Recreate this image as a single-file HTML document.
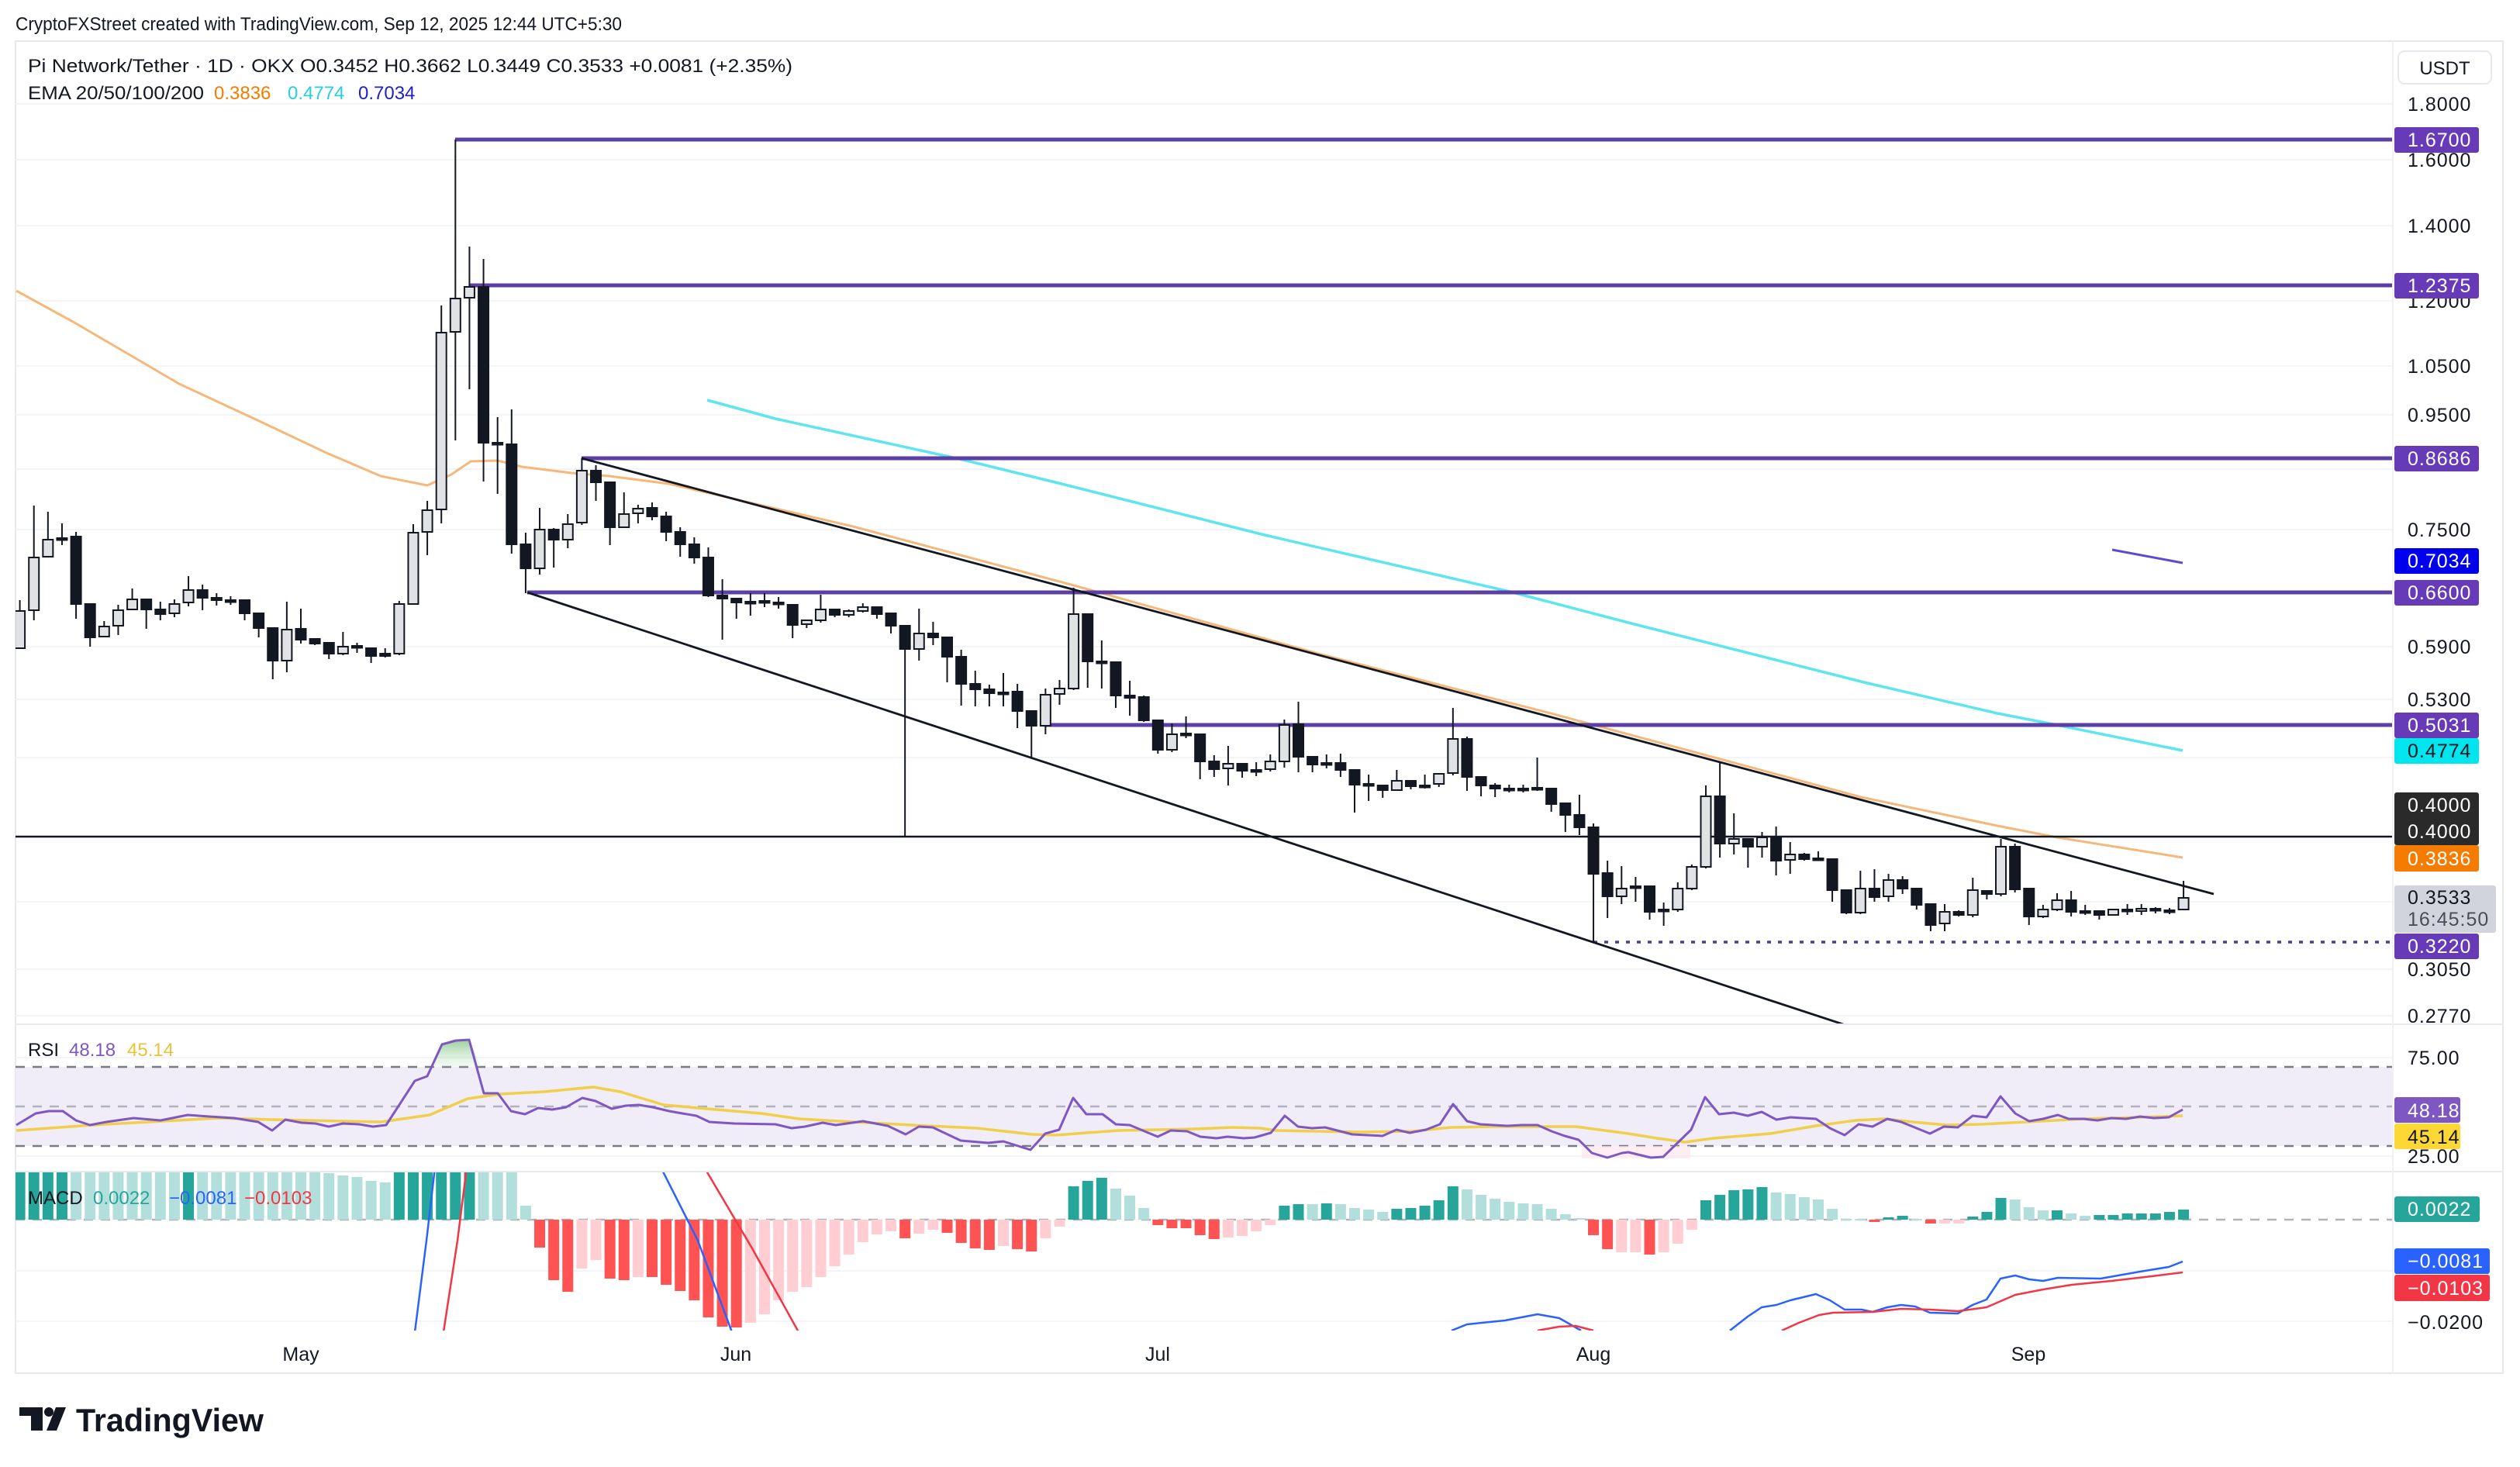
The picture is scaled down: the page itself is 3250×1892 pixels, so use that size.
<!DOCTYPE html>
<html><head><meta charset="utf-8"><style>
html,body{margin:0;padding:0;background:#fff;}
svg{display:block;}
text{font-family:"Liberation Sans",sans-serif;}
</style></head><body>
<svg id="s" xmlns="http://www.w3.org/2000/svg" width="3250" height="1892" viewBox="0 0 3250 1892">
<defs>
<clipPath id="pc"><rect x="20" y="54" width="3065" height="1266"/></clipPath>
<clipPath id="mc"><rect x="20" y="1512" width="3065" height="204"/></clipPath>
<linearGradient id="gg" x1="0" y1="0" x2="0" y2="1"><stop offset="0" stop-color="#7cc47f" stop-opacity="0.8"/><stop offset="1" stop-color="#c8e6c9" stop-opacity="0.2"/></linearGradient>
</defs>
<rect width="3250" height="1892" fill="#fff"/>
<!-- header -->
<text x="20" y="39" font-size="24" fill="#131722" textLength="782" lengthAdjust="spacingAndGlyphs">CryptoFXStreet created with TradingView.com, Sep 12, 2025 12:44 UTC+5:30</text>
<!-- frame -->
<g stroke="#e6e8ee" stroke-width="2" fill="none">
<rect x="20" y="53" width="3208" height="1718"/>
<line x1="20" y1="1321" x2="3228" y2="1321"/>
<line x1="20" y1="1511" x2="3228" y2="1511"/>
<line x1="3086" y1="53" x2="3086" y2="1771" stroke="#f0f1f4"/>
</g>
<g id="grid" stroke="#f3f4f7" stroke-width="2"></g>
<!-- RSI band -->
<rect x="20" y="1376" width="3065" height="102" fill="#ede9f7" opacity="0.85"/>
<g stroke-width="2.5" stroke-dasharray="12,10" fill="none">
<line x1="20" y1="1376" x2="3085" y2="1376" stroke="#787b86"/>
<line x1="20" y1="1427" x2="3085" y2="1427" stroke="#b0b3bd"/>
<line x1="20" y1="1478" x2="3085" y2="1478" stroke="#787b86"/>
<line x1="20" y1="1573" x2="3085" y2="1573" stroke="#b0b3bd"/>
</g>
<g id="price" clip-path="url(#pc)"></g>
<g id="macd" clip-path="url(#mc)"></g>
<g id="rsi"></g>

<!-- legends -->
<text x="36" y="93" font-size="24" fill="#131722" textLength="986" lengthAdjust="spacingAndGlyphs">Pi Network/Tether · 1D · OKX  O0.3452  H0.3662  L0.3449  C0.3533  +0.0081 (+2.35%)</text>
<text x="36" y="128" font-size="24" fill="#131722" textLength="227" lengthAdjust="spacingAndGlyphs">EMA 20/50/100/200</text>
<text x="276" y="128" font-size="24" fill="#f57c00">0.3836</text>
<text x="371" y="128" font-size="24" fill="#26d0e0">0.4774</text>
<text x="462" y="128" font-size="24" fill="#1f1fc8">0.7034</text>

<text x="36" y="1362" font-size="24" fill="#131722">RSI</text>
<text x="89" y="1362" font-size="24" fill="#7e57c2">48.18</text>
<text x="164" y="1362" font-size="24" fill="#e8c43a">45.14</text>

<text x="36" y="1553" font-size="24" fill="#131722">MACD</text>
<text x="120" y="1553" font-size="24" fill="#26a69a">0.0022</text>
<text x="218" y="1553" font-size="24" fill="#2962ff">−0.0081</text>
<text x="315" y="1553" font-size="24" fill="#f23645">−0.0103</text>

<!-- time axis -->
<g font-size="25" fill="#131722" text-anchor="middle">
<text x="388" y="1755">May</text><text x="949" y="1755">Jun</text><text x="1493" y="1755">Jul</text><text x="2055" y="1755">Aug</text><text x="2616" y="1755">Sep</text>
</g>

<!-- right axis -->
<rect x="3093" y="66" width="120" height="42" rx="8" fill="#fff" stroke="#e6e8ee" stroke-width="2"/>
<text x="3153" y="96" font-size="24" fill="#131722" text-anchor="middle">USDT</text>
<g font-size="25" fill="#131722" letter-spacing="1">
<text x="3105" y="143">1.8000</text>
<text x="3105" y="215">1.6000</text>
<text x="3105" y="300">1.4000</text>
<text x="3105" y="397">1.2000</text>
<text x="3105" y="481">1.0500</text>
<text x="3105" y="544">0.9500</text>
<text x="3105" y="692">0.7500</text>
<text x="3105" y="843">0.5900</text>
<text x="3105" y="911">0.5300</text>
<text x="3105" y="1259">0.3050</text>
<text x="3105" y="1319">0.2770</text>
<text x="3105" y="1373">75.00</text>
<text x="3105" y="1500">25.00</text>
<text x="3105" y="1714">−0.0200</text>
</g>
<g font-size="25" letter-spacing="1">
<rect x="3088" y="164" width="109" height="33" rx="3" fill="#673ab7"/><text x="3105" y="189" fill="#fff">1.6700</text>
<rect x="3088" y="352" width="109" height="33" rx="3" fill="#673ab7"/><text x="3105" y="377" fill="#fff">1.2375</text>
<rect x="3088" y="575" width="109" height="33" rx="3" fill="#673ab7"/><text x="3105" y="600" fill="#fff">0.8686</text>
<rect x="3088" y="707" width="109" height="33" rx="3" fill="#0000ee"/><text x="3105" y="732" fill="#fff">0.7034</text>
<rect x="3088" y="748" width="109" height="33" rx="3" fill="#673ab7"/><text x="3105" y="773" fill="#fff">0.6600</text>
<rect x="3088" y="919" width="109" height="33" rx="3" fill="#673ab7"/><text x="3105" y="944" fill="#fff">0.5031</text>
<rect x="3088" y="952" width="109" height="33" rx="3" fill="#00e5ee"/><text x="3105" y="977" fill="#131722">0.4774</text>
<rect x="3088" y="1022" width="109" height="68" rx="3" fill="#2a2a2a"/><text x="3105" y="1047" fill="#fff">0.4000</text><text x="3105" y="1081" fill="#fff">0.4000</text>
<rect x="3088" y="1090" width="109" height="34" rx="3" fill="#f57c00"/><text x="3105" y="1116" fill="#fff">0.3836</text>
<rect x="3088" y="1142" width="131" height="61" rx="3" fill="#d1d4dc"/><text x="3105" y="1166" fill="#131722">0.3533</text><text x="3105" y="1194" fill="#4a4d57">16:45:50</text>
<rect x="3088" y="1204" width="109" height="33" rx="3" fill="#673ab7"/><text x="3105" y="1229" fill="#fff">0.3220</text>
<rect x="3088" y="1415" width="85" height="33" rx="3" fill="#7e57c2"/><text x="3105" y="1441" fill="#fff">48.18</text>
<rect x="3088" y="1449" width="85" height="33" rx="3" fill="#fdd835"/><text x="3105" y="1475" fill="#131722">45.14</text>
<rect x="3088" y="1543" width="110" height="33" rx="3" fill="#26a69a"/><text x="3105" y="1568" fill="#fff">0.0022</text>
<rect x="3088" y="1610" width="123" height="33" rx="3" fill="#2962ff"/><text x="3105" y="1635" fill="#fff">−0.0081</text>
<rect x="3088" y="1644" width="123" height="34" rx="3" fill="#f23645"/><text x="3105" y="1670" fill="#fff">−0.0103</text>
</g>

<!-- logo -->
<g fill="#131722">
<rect x="25" y="1815" width="30" height="11"/><rect x="40" y="1815" width="15" height="30"/>
<circle cx="63" cy="1821" r="6"/><polygon points="72,1815 85,1815 73,1845 60,1845"/>
</g>
<text x="98" y="1846" font-size="42" font-weight="bold" fill="#131722" textLength="242" lengthAdjust="spacingAndGlyphs">TradingView</text>
</svg>
<script>
(function(){
var NS="http://www.w3.org/2000/svg";
function el(p,t,a){var e=document.createElementNS(NS,t);for(var k in a)e.setAttribute(k,a[k]);p.appendChild(e);return e;}
function X(d){return 388+18.12*d;}
var grid=document.getElementById('grid');
[134,206,291,388,472,535,605,683,834,902,977,1163,1250,1310,1364,1491,1639,1704].forEach(function(y){el(grid,'line',{x1:20,y1:y,x2:3085,y2:y});});
var P=document.getElementById('price');
function pl(g,pts,st,w,extra){var a={points:pts.map(function(p){return p.join(',')}).join(' '),fill:'none',stroke:st,'stroke-width':w,'stroke-linejoin':'round'};for(var k in extra)a[k]=extra[k];return el(g,'polyline',a);}
// EMAs
pl(P,[[21,375],[96,416],[161,454],[231,495],[330,541],[421,584],[491,614],[551,626],[582,612],[607,595],[642,594],[673,602],[737,610],[786,614],[863,624],[1100,679],[1385,755],[1700,843],[2000,920],[2200,974],[2400,1028],[2576,1065],[2653,1080],[2815,1106]],'#f6b87a',3);
pl(P,[[912,516],[1000,540],[1238,592],[1365,623],[1631,690],[1947,763],[2100,803],[2404,880],[2576,920],[2653,935],[2815,968]],'#5ee6ee',3.5);
pl(P,[[2724,709],[2815,726]],'#5d4ad0',3);
// horizontal levels
var lv=[[587,180],[605,368],[750,591],[680,764],[1347,935]];
lv.forEach(function(l){el(P,'line',{x1:l[0],y1:l[1],x2:3085,y2:l[1],stroke:'#5b3fa6','stroke-width':5});});
el(P,'line',{x1:20,y1:1079,x2:3085,y2:1079,stroke:'#131722','stroke-width':2.5});
el(P,'line',{x1:2055,y1:1215,x2:3085,y2:1215,stroke:'#4a3f8a','stroke-width':3.5,'stroke-dasharray':'5,9'});
el(P,'line',{x1:X(43),y1:845,x2:X(43),y2:1079,stroke:'#131722','stroke-width':2});
// channel
el(P,'line',{x1:750,y1:591,x2:2855,y2:1153,stroke:'#131722','stroke-width':2.8});
el(P,'line',{x1:680,y1:764,x2:2380,y2:1322,stroke:'#131722','stroke-width':2.8});
// candles [d,o,c,h,l]
var C=[[-20,836,788,774,837],[-19,787,719,652,800],[-18,718,696,660,718],[-17,694,694,675,703],[-16,692,779,686,798],[-15,779,822,779,834],[-14,821,808,801,822],[-13,807,787,780,819],[-12,786,773,759,787],[-11,773,786,773,811],[-10,786,792,776,800],[-9,791,779,773,796],[-8,777,761,743,782],[-7,761,771,754,787],[-6,771,774,765,781],[-5,774,774,769,780],[-4,774,791,774,800],[-3,791,810,791,822],[-2,810,852,810,876],[-1,852,812,776,867],[0,811,825,785,830],[1,824,830,824,832],[2,829,843,829,850],[3,843,834,815,845],[4,833,833,829,842],[5,836,846,836,855],[6,843,846,836,848],[7,843,779,775,845],[8,779,687,676,780],[9,686,658,646,716],[10,657,429,394,675],[11,428,385,180,568],[12,384,370,318,502],[13,370,571,334,621],[14,571,573,538,637],[15,573,702,528,714],[16,702,733,687,765],[17,733,683,655,741],[18,683,696,681,732],[19,696,676,663,707],[20,674,607,591,677],[21,607,622,600,646],[22,622,680,622,703],[23,680,663,635,680],[24,662,656,651,675],[25,655,666,648,671],[26,666,686,660,698],[27,686,702,680,718],[28,702,719,693,727],[29,719,768,706,770],[30,768,772,747,825],[31,772,777,772,798],[32,776,776,765,794],[33,775,775,765,783],
[34,777,777,770,785],[35,780,806,780,823],[36,805,800,800,810],[37,800,786,767,803],[38,786,793,786,796],[39,793,788,786,796],[40,788,783,778,790],[41,783,792,783,798],[42,791,807,791,817],[43,807,837,807,845],[44,837,817,785,852],[45,817,822,802,832],[46,822,847,822,880],[47,847,882,838,910],[48,882,889,865,911],[49,889,894,883,911],[50,893,893,868,911],[51,892,917,882,939],[52,917,936,917,977],[53,936,896,888,947],[54,895,888,877,909],[55,888,792,758,890],[56,792,853,792,887],[57,853,853,826,888],[58,854,897,854,913],[59,897,900,878,923],[60,899,929,897,931],[61,929,967,929,972],[62,967,947,933,970],[63,946,946,924,952],[64,947,982,947,1005],[65,982,992,974,1002],[66,991,985,962,1013],[67,985,994,985,1003],[68,993,993,983,1001],[69,992,982,973,995],[70,982,935,928,990],[71,934,976,905,996],[72,976,986,976,996],[73,984,986,973,991],[74,984,993,972,1002],[75,993,1012,993,1048],[76,1011,1011,999,1033],[77,1013,1019,1013,1029],[78,1019,1007,993,1020],[79,1007,1014,1007,1018],[80,1013,1013,999,1017],[81,1011,998,998,1015],[82,997,953,913,1000],[83,953,1002,950,1020],
[84,1002,1013,1002,1027],[85,1013,1017,1010,1028],[86,1017,1017,1012,1022],[87,1017,1017,1012,1022],[88,1016,1016,977,1020],[89,1017,1037,1017,1047],[90,1036,1051,1036,1073],[91,1051,1067,1025,1077],[92,1067,1127,1062,1216],[93,1126,1156,1110,1184],[94,1156,1146,1117,1166],[95,1143,1143,1131,1163],[96,1143,1176,1143,1186],[97,1173,1173,1164,1194],[98,1173,1146,1138,1176],[99,1146,1118,1115,1148],[100,1118,1027,1013,1120],[101,1027,1088,984,1106],[102,1088,1082,1049,1102],[103,1082,1092,1082,1119],[104,1092,1080,1073,1106],[105,1080,1110,1066,1129],[106,1109,1102,1086,1127],[107,1102,1108,1100,1110],[108,1107,1107,1098,1110],[109,1108,1148,1108,1163],[110,1148,1177,1148,1179],[111,1177,1146,1123,1179],[112,1146,1157,1121,1163],[113,1156,1135,1127,1163],[114,1135,1146,1130,1153],[115,1146,1167,1146,1173],[116,1166,1193,1166,1201],[117,1191,1176,1166,1201],[118,1176,1180,1174,1182],[119,1180,1148,1132,1183],[120,1149,1153,1149,1160],[121,1153,1092,1082,1156],[122,1092,1147,1088,1151],[123,1146,1182,1146,1193],[124,1182,1173,1167,1184],[125,1173,1161,1152,1175],[126,1161,1176,1149,1182],[127,1175,1175,1167,1180],[128,1175,1180,1175,1186],[129,1180,1173,1172,1181],[130,1173,1175,1166,1180],[131,1175,1172,1166,1180],[132,1172,1174,1170,1178],[133,1174,1174,1171,1179],[134,1173,1158,1136,1174]];
C.forEach(function(c){var x=X(c[0]),o=c[1],cl=c[2],h=Math.min(c[3],o,cl),l=Math.max(c[4],o,cl);
 el(P,'line',{x1:x,y1:h,x2:x,y2:l,stroke:'#131722','stroke-width':2});
 var top=Math.min(o,cl),ht=Math.max(Math.abs(o-cl),2.5);var up=cl<o;
 el(P,'rect',{x:x-6.5,y:top,width:13,height:ht,fill:up?'#e1e2e6':'#131722',stroke:'#131722','stroke-width':2});});
// RSI
var R=document.getElementById('rsi');
el(R,'polygon',{points:'557,1376 570,1347 588,1342 605,1341 620,1376',fill:'url(#gg)'});
el(R,'rect',{x:2040,y:1478,width:140,height:16,fill:'#fde7ec',opacity:0.7});
pl(R,[[21,1458],[119,1451],[281,1442],[351,1444],[491,1447],[554,1438],[603,1417],[645,1411],[702,1408],[765,1402],[800,1408],[856,1425],[912,1430],[982,1436],[1031,1443],[1100,1447],[1120,1448],[1176,1451],[1260,1455],[1331,1463],[1362,1464],[1401,1461],[1443,1458],[1541,1456],[1590,1454],[1625,1455],[1646,1458],[1752,1460],[1822,1459],[1871,1454],[1927,1453],[2032,1453],[2100,1462],[2137,1468],[2173,1473],[2210,1468],[2283,1462],[2342,1452],[2393,1445],[2430,1443],[2467,1447],[2511,1451],[2555,1450],[2613,1447],[2687,1443],[2760,1441],[2815,1439]],'#f2cf4a',3.5);
pl(R,[[21,1451],[46,1436],[63,1433],[81,1433],[98,1445],[116,1451],[137,1447],[172,1442],[207,1445],[242,1438],[270,1440],[302,1442],[333,1447],[351,1458],[368,1444],[389,1448],[407,1449],[424,1453],[442,1449],[463,1450],[481,1453],[498,1451],[535,1394],[551,1388],[570,1347],[588,1342],[605,1341],[624,1410],[642,1410],[659,1433],[677,1437],[694,1429],[712,1431],[730,1428],[751,1416],[768,1420],[789,1430],[807,1426],[824,1425],[842,1428],[863,1433],[880,1436],[898,1439],[915,1447],[947,1449],[1000,1450],[1021,1455],[1038,1453],[1061,1448],[1078,1451],[1113,1446],[1145,1452],[1168,1463],[1185,1453],[1203,1454],[1239,1471],[1274,1474],[1294,1472],[1329,1483],[1348,1462],[1366,1457],[1384,1416],[1401,1437],[1422,1437],[1439,1450],[1457,1451],[1493,1466],[1510,1458],[1531,1459],[1548,1466],[1569,1468],[1583,1466],[1604,1468],[1618,1467],[1639,1461],[1657,1439],[1674,1453],[1692,1455],[1709,1454],[1744,1463],[1783,1465],[1801,1457],[1818,1461],[1839,1457],[1857,1450],[1874,1424],[1892,1446],[1909,1450],[1944,1452],[1962,1451],[1983,1451],[2001,1459],[2018,1465],[2036,1470],[2053,1487],[2073,1493],[2092,1487],[2100,1486],[2129,1493],[2145,1492],[2181,1457],[2199,1415],[2217,1437],[2236,1435],[2254,1439],[2272,1434],[2291,1444],[2309,1441],[2342,1443],[2360,1455],[2379,1464],[2397,1450],[2415,1453],[2434,1443],[2452,1447],[2489,1462],[2507,1453],[2525,1454],[2544,1439],[2562,1441],[2580,1414],[2599,1436],[2617,1446],[2635,1443],[2654,1438],[2668,1443],[2687,1443],[2705,1445],[2723,1442],[2742,1443],[2760,1440],[2778,1442],[2797,1441],[2815,1431]],'#7e57c2',3);
// MACD histogram
var M=document.getElementById('macd');
var col={D:'#26a69a',L:'#b2dfdb',R:'#ff5252',P:'#ffcdd2'};
var H={};
function setr(a,b,c,y){for(var d=a;d<=b;d++)H[d]=[c,y];}
setr(-20,-17,'D',1500);setr(-16,-9,'L',1500);setr(-8,-8,'D',1500);setr(-7,1,'L',1500);
var hl=[[2,'L',1513],[3,'L',1516],[4,'L',1518],[5,'L',1523],[6,'L',1525]];
hl.forEach(function(a){H[a[0]]=[a[1],a[2]];});
setr(7,12,'D',1500);setr(13,15,'L',1500);
var s="16L1555 17R1609 18R1651 19R1666 20P1636 21P1625 22R1649 23R1651 24P1647 25R1647 26R1657 27R1665 28R1677 29R1699 30R1711 31R1712 32P1706 33P1695 34P1677 35P1666 36P1660 37P1647 38P1633 39P1618 40P1602 41P1592 42P1588 43R1597 44P1591 45P1586 46R1590 47R1603 48R1610 49R1612 50P1607 51R1611 52R1614 53P1597 54P1582 55D1530 56D1523 57D1519 58L1533 59L1542 60L1558 61R1580 62R1584 63R1584 64R1593 65R1598 66P1596 67P1594 68P1588 69P1580 70D1555 71D1553 72L1553 73D1552 74L1553 75L1558 76L1560 77L1563 78D1559 79D1558 80D1555 81D1548 82D1530 83L1534 84L1541 85L1546 86L1550 87L1552 88L1553 89L1559 90L1566 91L1571 92R1593 93R1611 94P1615 95P1615 96R1618 97P1615 98P1604 99P1586 100D1548 101D1541 102D1535 103D1534 104D1531 105L1538 106L1540 107L1544 108L1547 109L1559 110L1572 111L1572 112R1576 113D1570 114D1568 115L1572 116R1578 117P1578 118P1578 119D1569 120D1563 121D1545 122L1547 123L1557 124L1561 125D1561 126L1565 127L1568 128D1567 129D1567 130D1565 131D1565 132D1565 133D1563 134D1560";
s.split(' ').forEach(function(t){var m=t.match(/^(-?\d+)([DLRP])(\d+)$/);H[+m[1]]=[m[2],+m[3]];});
for(var d in H){var x=X(+d),c=H[d][0],y=H[d][1],z=1573;var top=Math.min(y,z),ht=Math.max(Math.abs(y-z),2);
 el(M,'rect',{x:x-7,y:top,width:14,height:ht,fill:col[c]});}
pl(M,[[535,1718],[550,1600],[561,1505]],'#2962ff',2.5);
pl(M,[[572,1718],[590,1600],[602,1505]],'#f23645',2.5);
pl(M,[[852,1505],[900,1600],[944,1718]],'#2962ff',2.5);
pl(M,[[908,1505],[970,1610],[1030,1718]],'#f23645',2.5);
pl(M,[[1872,1716],[1892,1708],[1941,1703],[1983,1695],[2011,1700],[2039,1716]],'#2962ff',2.5);
pl(M,[[1983,1716],[2011,1711],[2032,1710],[2055,1716]],'#f23645',2.5);
pl(M,[[2231,1716],[2254,1698],[2272,1686],[2291,1683],[2309,1677],[2342,1669],[2360,1677],[2379,1689],[2401,1689],[2415,1692],[2434,1686],[2452,1683],[2470,1685],[2489,1693],[2525,1694],[2544,1683],[2562,1676],[2580,1649],[2599,1645],[2617,1650],[2635,1652],[2654,1648],[2709,1649],[2760,1640],[2797,1634],[2815,1627]],'#2962ff',2.5);
pl(M,[[2298,1716],[2320,1706],[2346,1696],[2364,1693],[2415,1692],[2452,1688],[2489,1689],[2525,1691],[2562,1686],[2599,1670],[2635,1663],[2672,1657],[2723,1652],[2775,1646],[2815,1641]],'#f23645',2.5);
})();
</script>
</body></html>
